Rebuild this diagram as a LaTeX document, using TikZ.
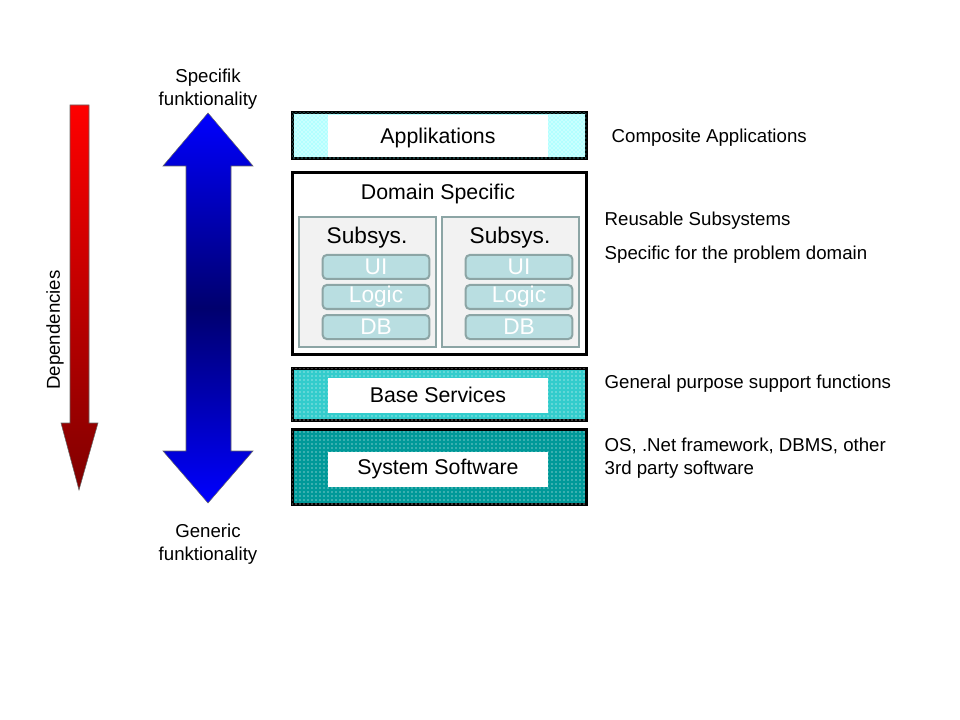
\documentclass[tikz,border=0pt]{standalone}
\usepackage{fontspec}
\setmainfont{Liberation Sans}
\usetikzlibrary{patterns}
\definecolor{subline}{RGB}{140,165,165}
\definecolor{subfill}{RGB}{242,242,242}
\definecolor{pillfill}{RGB}{185,222,225}
\definecolor{appdots}{RGB}{102,255,255}
\definecolor{basefill}{RGB}{51,204,204}
\definecolor{sysfill}{RGB}{0,153,153}
\definecolor{darkred}{RGB}{128,0,0}
\definecolor{deepblue}{RGB}{0,0,110}
\pgfdeclareverticalshading{bluemid}{100bp}{color(0bp)=(blue); color(25bp)=(blue);
  color(50bp)=(deepblue); color(75bp)=(blue); color(100bp)=(blue)}
\tikzset{
  every node/.style={font=\fontsize{14}{17}\selectfont},
  layer/.style={draw=black, line width=2.25pt},
  whitebox/.style={fill=white, minimum width=165pt, font=\fontsize{16}{19}\selectfont},
  subbox/.style={draw=subline, line width=1.5pt, fill=subfill},
  pill/.style={draw=subline, line width=1.5pt, fill=pillfill, rounded corners=3pt,
    minimum width=80pt, minimum height=18pt, inner sep=0pt, text=white,
    font=\fontsize{17}{19}\selectfont},
  side/.style={anchor=west, align=left}
}
\begin{document}
\begin{tikzpicture}[x=0.75pt, y=-0.75pt]
				\useasboundingbox (0,0) rectangle (960,720);
				% arrows on the left
				\shade[top color=red, bottom color=darkred, draw=black!60, line width=0.4pt]
					(70,105) -- (89,105) -- (89,423) -- (98,423) -- (79,490) -- (61,423) -- (70,423) -- cycle;
				\shade[shading=bluemid, draw=black!60, line width=0.4pt]
					(208,113) -- (253,166) -- (231,166) -- (231,451) -- (253,451) -- (208,503)
					-- (163,451) -- (186,451) -- (186,166) -- (163,166) -- cycle;
				\node[rotate=90] (dep) at (55,330) {Dependencies};
				\node[align=center] (spec) at (208,89) {Specifik\\funktionality};
				\node[align=center] (gen) at (208,544) {Generic\\funktionality};
				% layers
				\draw[layer, fill=appdots!35, postaction={pattern=crosshatch dots, pattern color=appdots}] (292,113) rectangle (586,159);
				\node[whitebox, minimum height=31.5pt, text depth=0pt] (app) at (438,136) {Applikations};
				\draw[layer, fill=white] (292,173) rectangle (586,354);
				\node[font=\fontsize{16}{19}\selectfont] (dom) at (438,194) {Domain Specific};
				\foreach \x/\n in {299/1,442/2} {
					\draw[subbox] (\x,217) rectangle ++(137,130);
					\node[font=\fontsize{17}{20}\selectfont] (sub\n) at (\x+68,238) {Subsys.};
					\node[pill] (ui\n) at (\x+77,267) {UI};
					\node[pill] (logic\n) at (\x+77,297) {Logic};
					\node[pill] (db\n) at (\x+77,327) {DB};
				}
				\draw[layer, fill=basefill, postaction={pattern=dots, pattern color=white}] (292,368) rectangle (586,420);
				\node[whitebox, minimum height=26.25pt] (base) at (438,395) {Base Services};
				\draw[layer, fill=sysfill, postaction={pattern=dots, pattern color=white}] (292,429) rectangle (586,504);
				\node[whitebox, minimum height=26.25pt] (sys) at (438,469) {System Software};
				% descriptions
				\node[side] (comp) at (607,138) {Composite Applications};
				\node[side] (reuse) at (600,221) {Reusable Subsystems};
				\node[side] (prob) at (600,255) {Specific for the problem domain};
				\node[side] (gp) at (600,384) {General purpose support functions};
				\node[side] (os) at (600,458) {OS, .Net framework, DBMS, other\\3rd party software};
			\end{tikzpicture}
\end{document}
